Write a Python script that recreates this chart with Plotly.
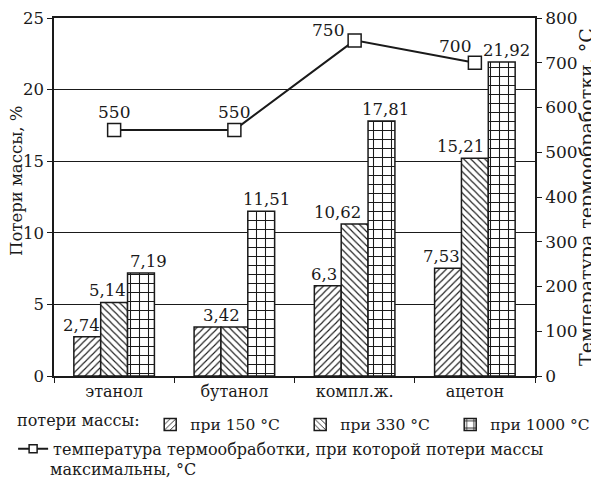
import plotly.graph_objects as go

categories = ["этанол", "бутанол", "компл.ж.", "ацетон"]
loss_150 = [2.74, 3.42, 6.3, 7.53]
loss_330 = [5.14, 3.42, 10.62, 15.21]
loss_1000 = [7.19, 11.51, 17.81, 21.92]
temp_max = [550, 550, 750, 700]

# label nudges in px (style only); None = label shared with neighbour bar
nudge_150 = [-6, 14, -4, -7]
nudge_330 = [-7, None, -17, -14]
nudge_1000 = [8, 5, 4, 5]
line_dx = [0, 0, -27, -20]
line_dy = [6, 6, -2, 5]

def fmt(v):
    s = f"{v:.2f}".rstrip("0").rstrip(".")
    return s.replace(".", ",")

FONT = "DejaVu Serif"
BLACK = "#1a1a1a"

# page body has an 8px margin: compensate so the plot area sits like the reference
W, H = 591, 470
ML, MR, MT, MB = 46, 64, 10, 102
BARGAP = 0.33
plot_w = W - ML - MR
bar_px = plot_w / len(categories) * (1 - BARGAP) / 3

fig = go.Figure()

def bar(vals, shape, size, name):
    return go.Bar(
        x=categories, y=vals, name=name,
        marker=dict(color="white", line=dict(color=BLACK, width=1.5),
                    pattern=dict(shape=shape, size=size, solidity=0.22,
                                 fgcolor=BLACK, bgcolor="white", fillmode="replace")),
        legend="legend",
    )

fig.add_trace(bar(loss_150, "/", 5, "при 150 °C"))
fig.add_trace(bar(loss_330, "\\", 5, "при 330 °C"))
fig.add_trace(bar(loss_1000, "+", 9, "при 1000 °C"))

fig.add_trace(go.Scatter(
    x=categories, y=temp_max, yaxis="y2", mode="lines+markers",
    line=dict(color=BLACK, width=2),
    marker=dict(symbol="square", size=13, color="white", line=dict(color=BLACK, width=1.5)),
    showlegend=False, cliponaxis=False,
))
# legend key for the line (smaller marker, as in the reference key)
fig.add_trace(go.Scatter(
    x=[None], y=[None], yaxis="y2", mode="lines+markers",
    line=dict(color=BLACK, width=2),
    marker=dict(symbol="square", size=8, color="white", line=dict(color=BLACK, width=1.5)),
    name="температура термообработки, при которой потери массы",
    legend="legend2",
))

# bar value labels
for j, (vals, nudges) in enumerate([(loss_150, nudge_150), (loss_330, nudge_330), (loss_1000, nudge_1000)]):
    for i, c in enumerate(categories):
        if nudges[i] is None:
            continue
        fig.add_annotation(x=c, y=vals[i], text=fmt(vals[i]), showarrow=False,
                           xshift=(j - 1) * bar_px + nudges[i], yshift=0,
                           xanchor="center", yanchor="bottom",
                           font=dict(family=FONT, size=16.5, color=BLACK))

# line value labels
for i, c in enumerate(categories):
    fig.add_annotation(x=c, y=temp_max[i], yref="y2", text=str(temp_max[i]), showarrow=False,
                       xshift=line_dx[i], yshift=line_dy[i], xanchor="center", yanchor="bottom",
                       font=dict(family=FONT, size=17, color=BLACK))

# axis titles
fig.add_annotation(xref="paper", yref="paper", x=0, y=0.5, xshift=-38, yshift=16,
                   xanchor="center", yanchor="middle",
                   text="Потери массы, %", textangle=-90, showarrow=False,
                   font=dict(family=FONT, size=16.5, color=BLACK))
fig.add_annotation(xref="paper", yref="paper", x=1, y=0.5, xshift=51, yshift=0,
                   xanchor="center", yanchor="middle",
                   text="Температура термообработки, °C", textangle=-90, showarrow=False,
                   font=dict(family=FONT, size=19, color=BLACK))

# legend texts
fig.add_annotation(xref="paper", yref="paper", x=-0.081, y=-0.123, xanchor="left", yanchor="middle",
                   text="потери массы:", showarrow=False,
                   font=dict(family=FONT, size=16, color=BLACK))
fig.add_annotation(xref="paper", yref="paper", x=-0.0125, y=-0.262, xanchor="left", yanchor="middle",
                   text="максимальны, °C", showarrow=False,
                   font=dict(family=FONT, size=16, color=BLACK))

fig.update_layout(
    width=W, height=H,
    margin=dict(l=ML, r=MR, t=MT, b=MB, autoexpand=False),
    paper_bgcolor="white", plot_bgcolor="white",
    font=dict(family=FONT, size=16, color=BLACK),
    barmode="group", bargap=BARGAP, bargroupgap=0,
    xaxis=dict(showline=True, linecolor=BLACK, linewidth=1.5, mirror=True, tickson="boundaries",
               ticks="outside", ticklen=5, tickcolor=BLACK,
               tickfont=dict(family=FONT, size=16, color=BLACK), automargin=False),
    yaxis=dict(range=[0, 25], dtick=5, showgrid=True, gridcolor=BLACK, gridwidth=1,
               showline=True, linecolor=BLACK, linewidth=1.5, ticks="outside",
               ticklen=5, tickcolor=BLACK, zeroline=False, automargin=False,
               ticklabeloverflow="allow",
               tickfont=dict(family=FONT, size=16.5, color=BLACK)),
    yaxis2=dict(range=[0, 800], dtick=100, overlaying="y", side="right", showgrid=False,
                showline=True, linecolor=BLACK, linewidth=1.5, ticks="outside",
                ticklen=5, tickcolor=BLACK, zeroline=False, automargin=False,
                ticklabeloverflow="allow",
                tickfont=dict(family=FONT, size=17, color=BLACK)),
    legend=dict(orientation="h", x=0.2, y=-0.089, xanchor="left", yanchor="top",
                font=dict(family=FONT, size=15.5, color=BLACK), itemwidth=30,
                entrywidth=105, traceorder="normal", bgcolor="rgba(0,0,0,0)"),
    legend2=dict(orientation="h", x=-0.085, y=-0.156, xanchor="left", yanchor="top",
                 font=dict(family=FONT, size=16, color=BLACK), itemwidth=30,
                 bgcolor="rgba(0,0,0,0)"),
    showlegend=True,
)

fig.write_html("out.html")
